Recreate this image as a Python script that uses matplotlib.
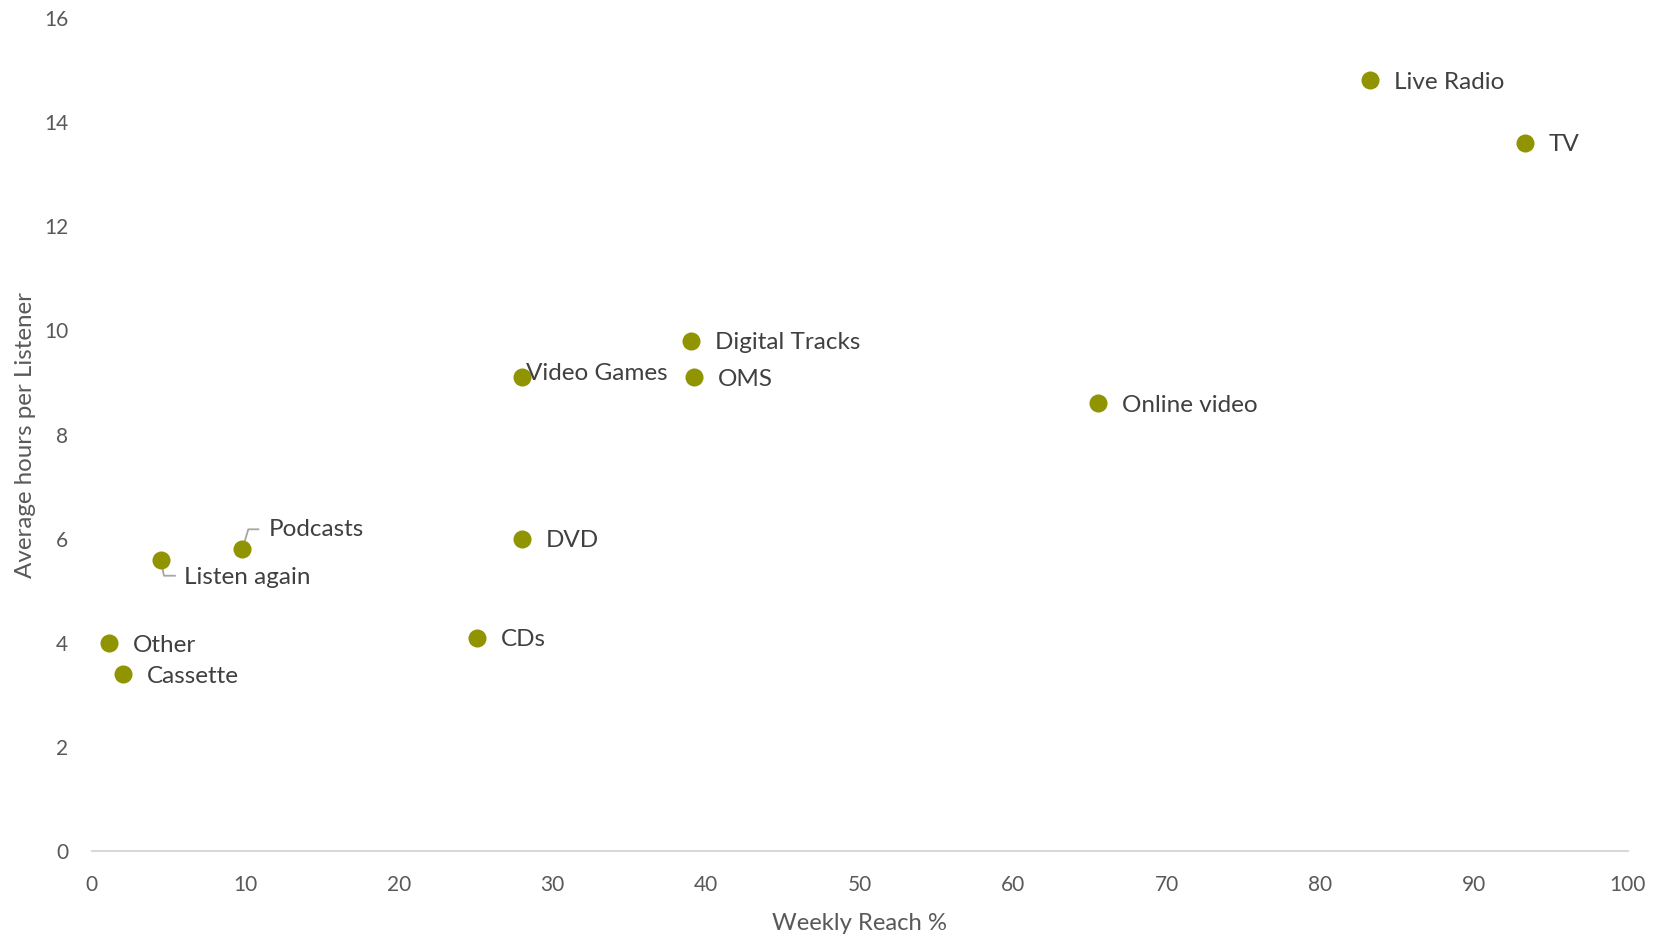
import matplotlib
matplotlib.use("Agg")
import matplotlib.pyplot as plt

plt.rcParams['font.family'] = ['Lato', 'DejaVu Sans']

# Weekly reach (%) and average weekly hours per listener by platform
platforms = ["Live Radio", "TV", "Online video", "Digital Tracks", "OMS",
             "Video Games", "DVD", "CDs", "Podcasts", "Listen again",
             "Other", "Cassette"]
weekly_reach = [83.2, 93.3, 65.5, 39.0, 39.2, 28.0, 28.0, 25.1, 9.8, 4.5, 1.1, 2.0]
avg_hours = [14.8, 13.6, 8.6, 9.8, 9.1, 9.1, 6.0, 4.1, 5.8, 5.6, 4.0, 3.4]

x_ticks = list(range(0, 101, 10))
y_ticks = list(range(0, 17, 2))

DOT = "#8F9400"
TICK_GREY = "#595959"
LABEL_GREY = "#404040"

fig = plt.figure(figsize=(16.54, 9.36), dpi=100)
ax = fig.add_axes([0.0555, 0.0903, 0.9285, 0.8906])
ax.set_xlim(0, 100)
ax.set_ylim(0, 16)
ax.set_autoscale_on(False)

ax.plot(weekly_reach, avg_hours, linestyle="none", marker="o",
        markersize=13, color=DOT, markeredgewidth=0, zorder=3)

# label offsets in pixels (dx, dy) and optional elbow leader lines
offsets = {
    "Video Games": (4, 4),
    "Podcasts": (26, 20),
    "Listen again": (23, -18),
}
leaders = {
    "Podcasts": [(0, 0), (6, 20), (16, 20)],
    "Listen again": [(0, 0), (3, -16), (14, -16)],
}

for name, xv, yv in zip(platforms, weekly_reach, avg_hours):
    dx, dy = offsets.get(name, (24, -2))
    ax.annotate(name, (xv, yv), xytext=(dx, dy), textcoords="offset pixels",
                ha="left", va="center", fontsize=17.5, color=LABEL_GREY,
                zorder=4)
    if name in leaders:
        px, py = ax.transData.transform((xv, yv))
        pts = [ax.transData.inverted().transform((px + a, py + b))
               for a, b in leaders[name]]
        ax.plot([p[0] for p in pts], [p[1] for p in pts], color="#A6A6A6",
                linewidth=1.3, zorder=2)

ax.set_xticks(x_ticks)
ax.set_yticks(y_ticks)
ax.tick_params(axis="both", length=0, labelsize=15, colors=TICK_GREY)
ax.tick_params(axis="y", pad=17)
ax.tick_params(axis="x", pad=17)

for side in ("top", "right", "left"):
    ax.spines[side].set_visible(False)
ax.spines["bottom"].set_color("#D9D9D9")
ax.spines["bottom"].set_linewidth(1.5)

ax.set_xlabel("Weekly Reach %", fontsize=17.2, color=TICK_GREY, labelpad=13)
ax.set_ylabel("Average hours per Listener", fontsize=17.4, color=TICK_GREY,
              labelpad=6)

fig.savefig("out.png", dpi=100, facecolor="white")
